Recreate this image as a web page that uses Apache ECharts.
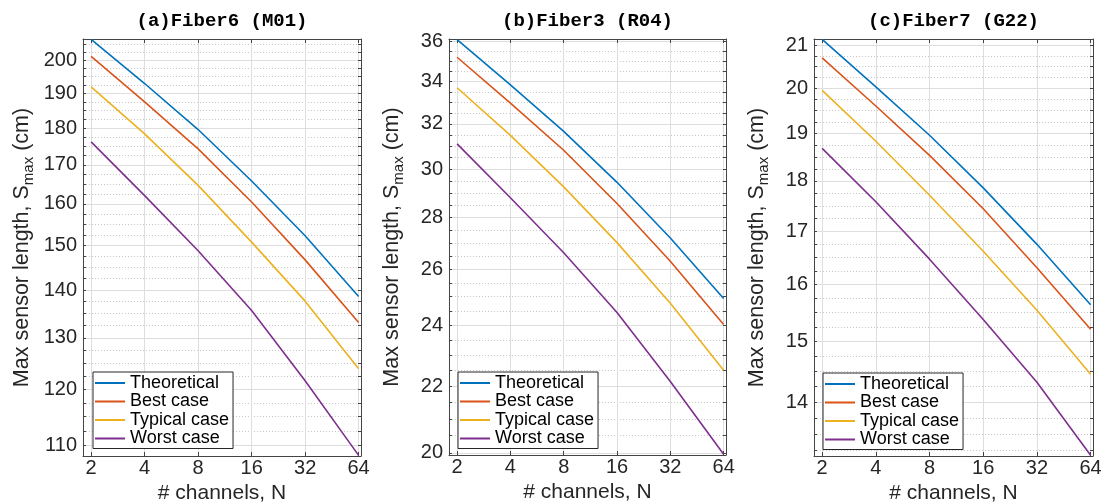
<!DOCTYPE html>
<html>
<head>
<meta charset="utf-8">
<script src="https://cdn.jsdelivr.net/npm/echarts@6/dist/echarts.min.js"></script>
<style>
html, body { margin: 0; padding: 0; background: #fff; }
#main { width: 1105px; height: 504px; }
</style>
</head>
<body>
<div id="main"></div>
<script>
// x 轴：通道数
var channels = [2, 4, 8, 16, 32, 64];
var seriesNames = ['Theoretical', 'Best case', 'Typical case', 'Worst case'];

// (a) Fiber6 (M01)
var theo6 = [206.6, 192.9, 179.6, 165.8, 152.3, 138.6];
var best6 = [201.2, 187.5, 174.3, 160.5, 146.7, 133.1];
var typ6 = [191.9, 178.4, 164.7, 150.8, 137.6, 123.9];
var worst6 = [176.2, 162.1, 148.8, 135.6, 121.6, 108.3];
var yTicks6 = [110, 120, 130, 140, 150, 160, 170, 180, 190, 200];

// (b) Fiber3 (R04)
var theo3 = [36.1, 33.84, 31.66, 29.44, 27.19, 24.94];
var best3 = [35.2, 32.97, 30.82, 28.56, 26.3, 24.03];
var typ3 = [33.7, 31.48, 29.25, 27.01, 24.77, 22.51];
var worst3 = [31.1, 28.8, 26.62, 24.44, 22.15, 19.96];
var yTicks3 = [20, 22, 24, 26, 28, 30, 32, 34, 36];

// (c) Fiber7 (G22)
var theo7 = [21.14, 20.03, 18.96, 17.86, 16.75, 15.64];
var best7 = [20.7, 19.6, 18.53, 17.44, 16.31, 15.21];
var typ7 = [19.95, 18.83, 17.71, 16.62, 15.54, 14.45];
var worst7 = [18.68, 17.58, 16.47, 15.38, 14.32, 13.18];
var yTicks7 = [14, 15, 16, 17, 18, 19, 20, 21];

var panels = [
    { title: '(a)Fiber6 (M01)', lines: [theo6, best6, typ6, worst6], ticks: yTicks6, step: 2.5, min: 108.2, max: 206.7,
      grid: { left: 83, top: 39, width: 278, height: 417, outerBoundsMode: 'none' }, nameGap: 47, legend: { left: 93, top: 372 } },
    { title: '(b)Fiber3 (R04)', lines: [theo3, best3, typ3, worst3], ticks: yTicks3, step: 0.5, min: 19.94, max: 36.13,
      grid: { left: 449, top: 39, width: 277, height: 416, outerBoundsMode: 'none' }, nameGap: 43, legend: { left: 458, top: 372 } },
    { title: '(c)Fiber7 (G22)', lines: [theo7, best7, typ7, worst7], ticks: yTicks7, step: 0.25, min: 13.17, max: 21.15,
      grid: { left: 814, top: 39, width: 279, height: 417, outerBoundsMode: 'none' }, nameGap: 43, legend: { left: 823, top: 373 } }
];

var colors = ['#0072BD', '#D95319', '#EDB120', '#7E2F8E'];
var font = 'Liberation Sans, Arial, sans-serif';
var axisColor = '#444';
var majorGrid = '#dedede';
var minorGrid = '#c8c8c8';
var none = 'rgba(0,0,0,0)';

// 主刻度 + 次刻度
function allTicks(p) {
    var first = p.ticks[0];
    var k = Math.floor((first - p.min) / p.step + 1e-9);
    var list = [];
    for (var v = first - k * p.step; v <= p.max + 1e-9; v += p.step) {
        list.push(Math.round(v * 1000) / 1000);
    }
    return { list: list, offset: k };
}

function fmt(v) {
    return String(+(+v).toFixed(2));
}

var option = {
    backgroundColor: '#fff',
    animation: false,
    title: [],
    legend: [],
    grid: [],
    xAxis: [],
    yAxis: [],
    series: []
};

panels.forEach(function (p, i) {
    var t = allTicks(p);
    var solidCycle = [none, none, none, none];
    var dotCycle = [minorGrid, minorGrid, minorGrid, minorGrid];
    solidCycle[t.offset % 4] = majorGrid;
    dotCycle[t.offset % 4] = none;

    option.grid.push(p.grid);

    option.title.push({
        text: p.title,
        left: p.grid.left + p.grid.width / 2,
        top: 12,
        textAlign: 'center',
        padding: 0,
        textStyle: { fontFamily: 'Liberation Mono, monospace', fontSize: 19, fontWeight: 'bold', color: '#000' }
    });

    // 底部 x 轴
    option.xAxis.push({
        type: 'log', logBase: 2, gridIndex: i, position: 'bottom',
        min: 1.8, max: 66,
        name: '# channels, N', nameLocation: 'middle', nameGap: 22,
        nameTextStyle: { fontFamily: font, fontSize: 21, color: '#262626' },
        axisLine: { show: true, lineStyle: { color: axisColor, width: 1 } },
        axisTick: { show: true, inside: true, length: 4, customValues: channels, lineStyle: { color: axisColor } },
        axisLabel: { customValues: channels, margin: 2, fontFamily: font, fontSize: 20, color: '#262626', formatter: fmt },
        splitLine: { show: true, lineStyle: { color: majorGrid, width: 1 } },
        minorTick: { show: false }
    });
    // 顶部边框
    option.xAxis.push({
        type: 'log', logBase: 2, gridIndex: i, position: 'top',
        min: 1.8, max: 66,
        axisLine: { show: true, lineStyle: { color: axisColor, width: 1 } },
        axisTick: { show: true, inside: true, length: 4, customValues: channels, lineStyle: { color: axisColor } },
        axisLabel: { show: false },
        splitLine: { show: false }
    });

    // 左侧 y 轴（主网格）
    option.yAxis.push({
        type: 'log', gridIndex: i, position: 'left',
        min: p.min, max: p.max,
        name: '{a|Max sensor length, S}{b|max}{a| (cm)}',
        nameLocation: 'middle', nameGap: p.nameGap, nameRotate: 90,
        nameTextStyle: {
            color: '#262626',
            rich: {
                a: { fontFamily: font, fontSize: 21.5, lineHeight: 28, color: '#262626' },
                b: { fontFamily: font, fontSize: 15, lineHeight: 15, verticalAlign: 'bottom', color: '#262626' }
            }
        },
        axisLine: { show: true, lineStyle: { color: axisColor, width: 1 } },
        axisTick: { show: true, inside: true, length: 3, customValues: t.list, lineStyle: { color: axisColor } },
        axisLabel: { customValues: p.ticks, margin: 6, fontFamily: font, fontSize: 20, color: '#262626', formatter: fmt },
        splitLine: { show: true, lineStyle: { color: solidCycle, width: 1 } }
    });
    // 右侧边框（次网格虚线）
    option.yAxis.push({
        type: 'log', gridIndex: i, position: 'right',
        min: p.min, max: p.max,
        axisLine: { show: true, lineStyle: { color: axisColor, width: 1 } },
        axisTick: { show: true, inside: true, length: 3, customValues: t.list, lineStyle: { color: axisColor } },
        axisLabel: { show: false },
        splitLine: { show: true, lineStyle: { color: dotCycle, width: 1, type: [1, 2] } }
    });

    p.lines.forEach(function (vals, j) {
        option.series.push({
            name: seriesNames[j],
            type: 'line',
            xAxisIndex: i * 2,
            yAxisIndex: i * 2,
            symbol: 'none',
            clip: false,
            color: colors[j],
            lineStyle: { width: 1.6, color: colors[j] },
            data: channels.map(function (n, k) { return [n, vals[k]]; })
        });
    });

    option.legend.push({
        data: seriesNames,
        left: p.legend.left,
        top: p.legend.top,
        orient: 'vertical',
        icon: 'rect',
        itemWidth: 30,
        itemHeight: 2,
        itemGap: 0.5,
        padding: [2, 4, 1, 2],
        backgroundColor: '#fff',
        borderColor: '#262626',
        borderWidth: 1,
        selectedMode: false,
        textStyle: { fontFamily: font, fontSize: 18, lineHeight: 18, color: '#000' }
    });
});

var myChart = echarts.init(document.getElementById('main'));
myChart.setOption(option);
</script>
</body>
</html>
